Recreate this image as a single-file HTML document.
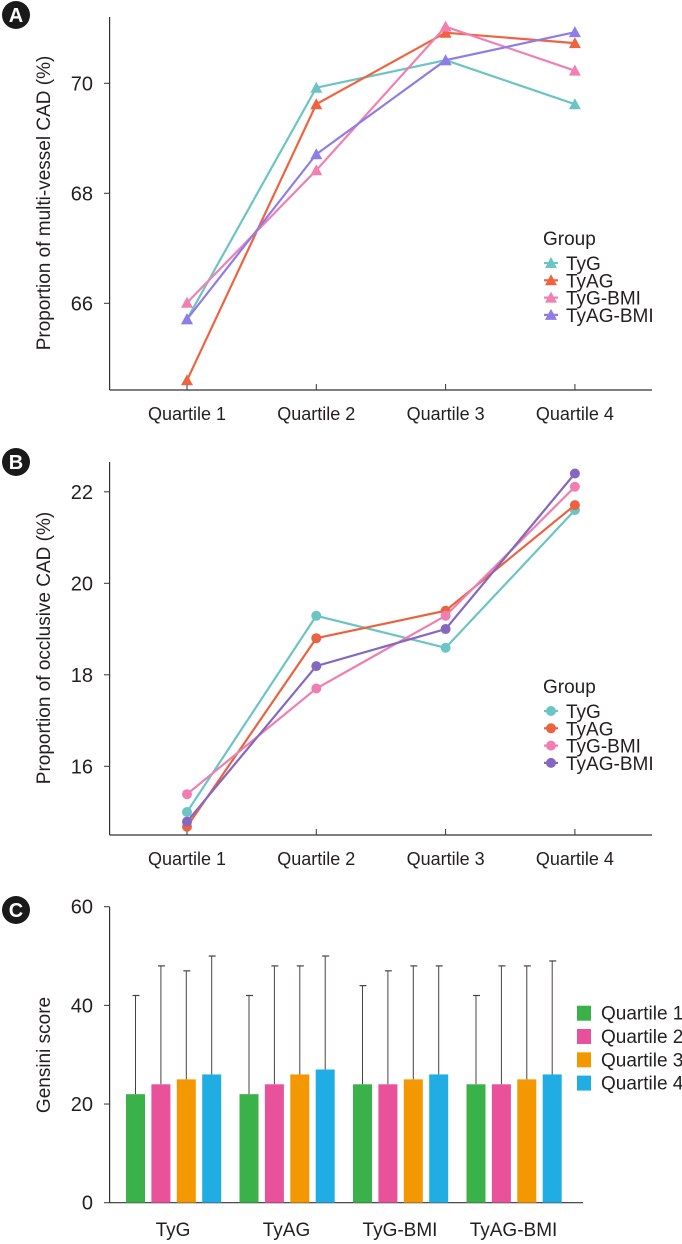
<!DOCTYPE html>
<html><head><meta charset="utf-8">
<style>
html,body{margin:0;padding:0;background:#fff;}
svg{display:block;font-family:"Liberation Sans Narrow","Liberation Sans",sans-serif;}
</style></head>
<body>
<svg id="fig" width="682" height="1244" viewBox="0 0 682 1244" xmlns="http://www.w3.org/2000/svg"></svg>
<script>
// ---- Panel A data ----
const quartiles = ["Quartile 1","Quartile 2","Quartile 3","Quartile 4"];
const groups = ["TyG","TyAG","TyG-BMI","TyAG-BMI"];
const aTicks = [66,68,70];
const aTyG = [65.71,69.92,70.42,69.62];
const aTyAG = [64.6,69.62,70.92,70.73];
const aTyGBMI = [66.01,68.42,71.03,70.23];
const aTyAGBMI = [65.71,68.71,70.42,70.93];
// ---- Panel B data ----
const bTicks = [16,18,20,22];
const bTyG = [15.0,19.29,18.59,21.6];
const bTyAG = [14.68,18.8,19.4,21.71];
const bTyGBMI = [15.39,17.7,19.29,22.11];
const bTyAGBMI = [14.79,18.19,19.0,22.4];
// ---- Panel C data ----
const cTicks = [0,20,40,60];
const cQ1 = [22,22,24,24];
const cQ2 = [24,24,24,24];
const cQ3 = [25,26,25,25];
const cQ4 = [26,27,26,26];
const cQ1err = [42,42,44,42];
const cQ2err = [48,48,47,48];
const cQ3err = [47,48,48,48];
const cQ4err = [50,50,48,49];

const NS="http://www.w3.org/2000/svg";
const svg=document.getElementById('fig');
function mk(tag,attrs,parent){const e=document.createElementNS(NS,tag);for(const k in attrs)e.setAttribute(k,attrs[k]);(parent||svg).appendChild(e);return e;}
function txt(s,attrs,parent){const e=mk('text',attrs,parent);e.textContent=s;return e;}

function badge(letter,cy){
  const g=mk('g',{});
  
  
  mk('circle',{cx:16,cy:cy,r:14,fill:'#1a1a1a'},g);
  txt(letter,{x:16,y:cy+7,'text-anchor':'middle','font-size':20,'font-weight':'bold',fill:'#fff','font-family':'Liberation Sans,sans-serif'},g);
}

const qx = i => 187 + i*129.3;

function linePanel(id,top,bottom,ticks,yf,series,colors,marker,legY,title,titleY){
  const g=mk('g',{});
  
  
  const ax=mk('g',{},g);
  
  
  mk('line',{x1:109.6,y1:top,x2:109.6,y2:bottom,stroke:'#333','stroke-width':1.2},ax);
  ticks.forEach(t=>{
    const y=yf(t);
    mk('line',{x1:109.6,y1:y,x2:104,y2:y,stroke:'#333','stroke-width':1},ax);
    const l=txt(String(t),{x:93,y:y+7,'text-anchor':'end','font-size':20,fill:'#231f20'},ax);
    
    
  });
  const xa=mk('g',{},g);
  
  
  mk('line',{x1:109.6,y1:bottom,x2:652,y2:bottom,stroke:'#333','stroke-width':1.2},xa);
  quartiles.forEach((q,i)=>{
    mk('line',{x1:qx(i),y1:bottom,x2:qx(i),y2:bottom-6,stroke:'#333','stroke-width':1},xa);
    const l=txt(q,{x:qx(i),y:bottom+30,'text-anchor':'middle','font-size':18,fill:'#231f20'},xa);
    
    
  });
  const yt=txt(title,{x:0,y:0,'text-anchor':'middle','font-size':19,fill:'#231f20',transform:`translate(50,${titleY}) rotate(-90)`},g);
  
  
  series.forEach((vals,si)=>{
    const sg=mk('g',{},g);
    
    
    const pts=vals.map((v,i)=>qx(i)+','+yf(v)).join(' ');
    mk('polyline',{points:pts,fill:'none',stroke:colors[si],'stroke-width':2.2},sg);
    vals.forEach((v,i)=>{
      let m;
      if(marker==='tri') m=mk('polygon',{points:`${qx(i)},${yf(v)-6} ${qx(i)-6},${yf(v)+5} ${qx(i)+6},${yf(v)+5}`,fill:colors[si]},sg);
      else m=mk('circle',{cx:qx(i),cy:yf(v),r:5,fill:colors[si]},sg);
      
      
    });
  });
  const lg=mk('g',{},g);
  
  
  txt('Group',{x:543,y:legY+6,'font-size':19,fill:'#231f20'},lg);
  groups.forEach((n,i)=>{
    const y=legY+24+i*17.3;
    const e=mk('g',{},lg);
    
    
    mk('line',{x1:544,y1:y,x2:558,y2:y,stroke:colors[i],'stroke-width':2.2},e);
    if(marker==='tri') mk('polygon',{points:`551,${y-6} 545,${y+5} 557,${y+5}`,fill:colors[i]},e);
    else mk('circle',{cx:551,cy:y,r:5,fill:colors[i]},e);
    txt(n,{x:566,y:y+7,'font-size':19,fill:'#231f20'},e);
  });
}

badge('A',15);
linePanel('panel-a',17,390,aTicks,v=>83.3+(70-v)*55,[aTyG,aTyAG,aTyGBMI,aTyAGBMI],
  ['#6cc4c4','#ef6440','#f27fb2','#8f7ce8'],'tri',239,'Proportion of multi-vessel CAD (%)',203);
badge('B',462);
linePanel('panel-b',462,835,bTicks,v=>583.3+(20-v)*45.75,[bTyG,bTyAG,bTyGBMI,bTyAGBMI],
  ['#6cc4c4','#ea6240','#ee7fb0','#8468c0'],'dot',687,'Proportion of occlusive CAD (%)',648);

// Panel C
badge('C',910);
(function(){
  const g=mk('g',{});
  
  
  const yf=v=>1202.7-v*(1202.7-906.7)/60;
  const ax=mk('g',{},g);
  
  
  mk('line',{x1:109.6,y1:906.7,x2:109.6,y2:1202.7,stroke:'#333','stroke-width':1.2},ax);
  cTicks.forEach(t=>{
    const y=yf(t);
    mk('line',{x1:109.6,y1:y,x2:104,y2:y,stroke:'#333','stroke-width':1},ax);
    const l=txt(String(t),{x:93,y:y+7,'text-anchor':'end','font-size':20,fill:'#231f20'},ax);
    
    
  });
  const yt=txt('Gensini score',{x:0,y:0,'text-anchor':'middle','font-size':19,fill:'#231f20',transform:'translate(50,1055) rotate(-90)'},g);
  
  
  const xa=mk('g',{},g);
  
  
  mk('line',{x1:109.6,y1:1202.7,x2:583,y2:1202.7,stroke:'#333','stroke-width':1.2},xa);
  const cols=['#3bb14a','#e9519a','#f39800','#20ade3'];
  const means=[cQ1,cQ2,cQ3,cQ4], errs=[cQ1err,cQ2err,cQ3err,cQ4err];
  groups.forEach((n,gi)=>{
    const gx=126+gi*113.5;
    const l=txt(n,{x:gx+47,y:1236,'text-anchor':'middle','font-size':19,fill:'#231f20'},xa);
    
    
    for(let q=0;q<4;q++){
      const x=gx+q*25.4, w=19, cx=x+w/2;
      const eb=mk('line',{x1:cx,y1:yf(errs[q][gi]),x2:cx,y2:yf(means[q][gi]),stroke:'#4a4040','stroke-width':1},g);
      
      
      mk('line',{x1:cx-3,y1:yf(errs[q][gi]),x2:cx+4,y2:yf(errs[q][gi]),stroke:'#4a4040','stroke-width':1.2},g);
      const b=mk('rect',{x:x,y:yf(means[q][gi]),width:w,height:1202.7-yf(means[q][gi]),fill:cols[q]},g);
      
      
    }
  });
  const lg=mk('g',{},g);
  
  
  quartiles.forEach((q,i)=>{
    const y=1005.7+i*23.3;
    const e=mk('g',{},lg);
    
    
    mk('rect',{x:577,y:y,width:14,height:15,fill:cols[i]},e);
    txt(q,{x:601,y:y+14,'font-size':19,fill:'#231f20'},e);
  });
})();
</script>
</body></html>
